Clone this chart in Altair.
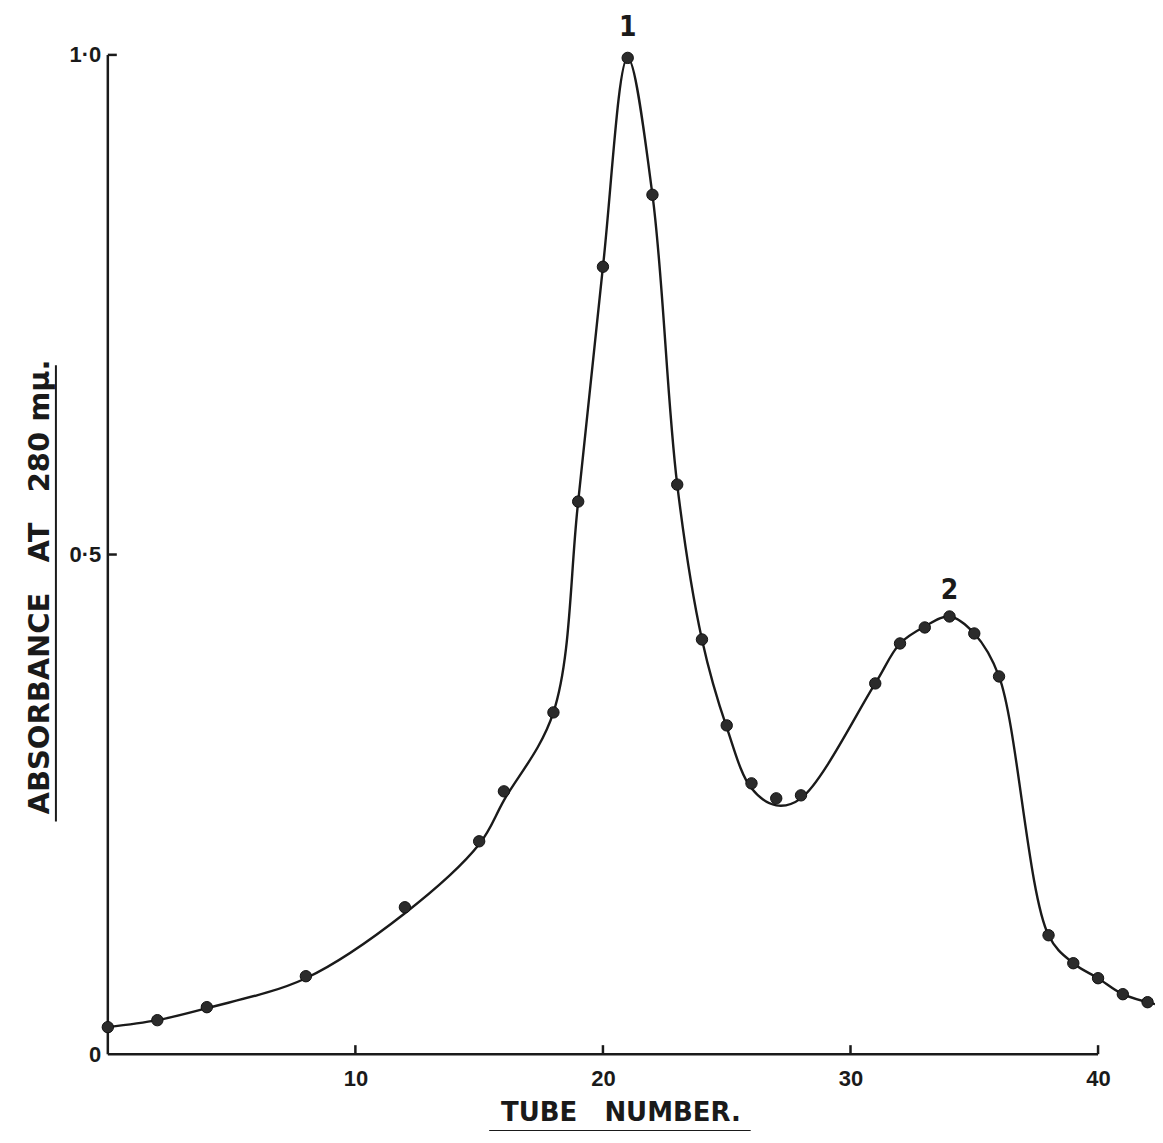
import altair as alt
import pandas as pd

# ---- data ----
# measured points (dots)
tube = [0, 2, 4, 8, 12, 15, 16, 18, 19, 20, 21, 22, 23, 24, 25, 26, 27, 28,
        31, 32, 33, 34, 35, 36, 38, 39, 40, 41, 42]
absorbance = [0.027, 0.034, 0.047, 0.078, 0.147, 0.213, 0.263, 0.342, 0.553,
              0.788, 0.997, 0.860, 0.570, 0.415, 0.329, 0.271, 0.256, 0.259,
              0.371, 0.411, 0.427, 0.438, 0.421, 0.378, 0.119, 0.091, 0.076,
              0.060, 0.052]

# hand-drawn smooth curve, read where it passes those tubes
curve_tube = [0, 2, 4, 8, 12, 15, 16, 18, 19, 20, 21, 22, 23, 24, 25, 26, 27, 28,
              31, 32, 33, 34, 35, 36, 38, 39, 40, 41, 42.3]
curve_abs = [0.027, 0.034, 0.046, 0.076, 0.141, 0.210, 0.254, 0.342, 0.553,
             0.788, 0.997, 0.860, 0.570, 0.415, 0.327, 0.266, 0.249, 0.256,
             0.371, 0.411, 0.428, 0.438, 0.421, 0.378, 0.119, 0.091, 0.076,
             0.060, 0.050]

x_ticks = [10, 20, 30, 40]
y_ticks = [0.5, 1.0]
y_label_values = [0, 0.5, 1.0]

peak_names = ["1", "2"]
peak_tube = [21, 34]
peak_y = [1.027, 0.463]

X_MAX_AXIS = 40
Y_MAX_AXIS = 1.0

W, H = 1049, 1001

df = pd.DataFrame({"tube": tube, "abs": absorbance})
curve = pd.DataFrame({"tube": curve_tube, "abs": curve_abs})
peaks = pd.DataFrame({"name": peak_names, "tube": peak_tube, "abs": peak_y})
xt = pd.DataFrame({"tube": x_ticks})
yt = pd.DataFrame({"abs": y_ticks})

xs = alt.Scale(domain=[0, 42.3], nice=False, zero=False)
ys = alt.Scale(domain=[0, 1.0], nice=False)

INK = "#1a1a1a"
FONT = "DejaVu Sans"
LFONT = "Liberation Sans"

X_AXIS = alt.Axis(values=x_ticks, domain=False, ticks=False, grid=False,
                  title=None, labelFont=LFONT, labelFontWeight="bold",
                  labelFontSize=22, labelColor=INK, labelPadding=14)
Y_AXIS = alt.Axis(values=y_label_values, domain=False, ticks=False, grid=False,
                  title=None, labelFont=LFONT, labelFontWeight="bold",
                  labelFontSize=22, labelColor=INK, labelPadding=7,
                  labelExpr="datum.value == 0 ? '0' : replace(format(datum.value, '.1f'), '.', '·')")

X = alt.X("tube:Q", scale=xs, axis=X_AXIS)
Y = alt.Y("abs:Q", scale=ys, axis=Y_AXIS)

line = alt.Chart(curve).mark_line(
    interpolate="catmull-rom", color=INK, strokeWidth=2.4, clip=False
).encode(x=X, y=Y)

points = alt.Chart(df).mark_circle(size=130, color="#2b2b2b", opacity=1,
                                   stroke="#111", strokeWidth=1, clip=False).encode(x=X, y=Y)

axis_df = pd.DataFrame({"tube": [0, 0], "t2": [X_MAX_AXIS, 0], "abs": [0, 0], "a2": [0, Y_MAX_AXIS]})
axes = alt.Chart(axis_df).mark_rule(color=INK, strokeWidth=2.5).encode(
    x=X, x2="t2:Q", y=Y, y2="a2:Q",
)

xtick_marks = alt.Chart(xt).mark_rule(color=INK, strokeWidth=2.5).encode(
    x=X, y=alt.value(H), y2=alt.value(H - 9)
)
ytick_marks = alt.Chart(yt).mark_rule(color=INK, strokeWidth=2.5).encode(
    y=Y, x=alt.value(0), x2=alt.value(9)
)

peak_text = alt.Chart(peaks).mark_text(
    font="DejaVu Sans Condensed", fontSize=28, fontWeight="bold", color=INK,
    baseline="middle", align="center"
).encode(x=X, y=Y, text="name:N")

SP = "\u00a0"
ytitle = alt.Chart(pd.DataFrame({"t": [f"ABSORBANCE{SP*3}AT{SP*3}280{SP}mμ."]})).mark_text(
    font=FONT, fontSize=29, fontWeight="bold", color=INK, angle=270,
    align="center", baseline="middle"
).encode(x=alt.value(-68), y=alt.value(533), text="t:N")

ytitle_line = alt.Chart(pd.DataFrame({"a": [0]})).mark_rule(color=INK, strokeWidth=2).encode(
    x=alt.value(-52), y=alt.value(311), y2=alt.value(768)
)

xtitle = alt.Chart(pd.DataFrame({"t": [f"TUBE{SP*3}NUMBER."]})).mark_text(
    font=FONT, fontSize=26, fontWeight="bold", color=INK,
    align="center", baseline="middle"
).encode(x=alt.value(514), y=alt.value(1060), text="t:N")

xtitle_line = alt.Chart(pd.DataFrame({"a": [0]})).mark_rule(color=INK, strokeWidth=2).encode(
    x=alt.value(382), x2=alt.value(644), y=alt.value(1078)
)

chart = alt.layer(
    axes, xtick_marks, ytick_marks, line, points, peak_text,
    ytitle, ytitle_line, xtitle, xtitle_line
).properties(
    width=W, height=H,
    padding={"left": 100, "top": 46, "right": 0, "bottom": 76},
    autosize=alt.AutoSizeParams(type="none"),
    background="white",
).configure_view(stroke=None).configure_axis(
    labelFont=LFONT, labelFontWeight="bold", labelFontSize=22, labelColor=INK
)

chart.save("out.html", embed_options={"renderer": "svg", "actions": False})
